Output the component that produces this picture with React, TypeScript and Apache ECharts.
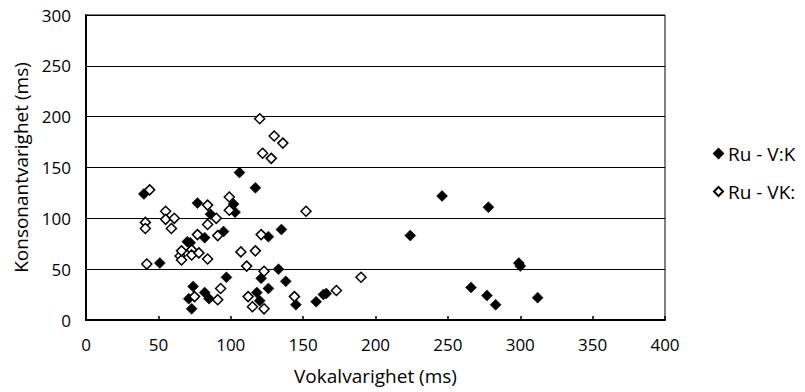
import React, { useEffect, useRef } from "react";
import * as echarts from "echarts";

const seriesNames = ["Ru - V:K", "Ru - VK:"];

// Ru - V:K  [vowel ms, consonant ms]
const filledPoints: [number, number][] = [
  [40, 124], [51, 56], [77, 115], [86, 104], [82, 81], [70, 77], [72, 76],
  [95, 87], [106, 145], [117, 130], [102, 114], [103, 106], [126, 82], [135, 89],
  [97, 42], [74, 33], [71, 21], [73, 11], [82, 27], [85, 21], [121, 41],
  [133, 50], [138, 38], [126, 31], [118, 27], [120, 19], [145, 15], [159, 18],
  [164, 25], [166, 26], [224, 83], [246, 122], [278, 111], [299, 56], [300, 53],
  [266, 32], [277, 24], [283, 15], [312, 22],
];

// Ru - VK:
const openPoints: [number, number][] = [
  [41, 96], [41, 90], [42, 55], [44, 128], [55, 107], [55, 99], [61, 100], [59, 90],
  [84, 113], [90, 100], [84, 94], [91, 83], [77, 84], [65, 63], [66, 59], [66, 68],
  [73, 69], [73, 64], [78, 66], [84, 60], [99, 121], [99, 108], [120, 198], [130, 181],
  [136, 174], [122, 164], [128, 159], [152, 107], [107, 67], [117, 68], [121, 84],
  [111, 53], [123, 48], [112, 23], [115, 13], [123, 11], [144, 23], [173, 29],
  [190, 42], [75, 23], [91, 20], [93, 31],
];

const xTitle = "Vokalvarighet (ms)";
const yTitle = "Konsonantvarighet (ms)";

const FONT = "Open Sans";

export default function App() {
  const ref = useRef<HTMLDivElement>(null);
  useEffect(() => {
    if (!ref.current) return;
    const chart = echarts.init(ref.current, null, { renderer: "svg" });
    chart.setOption({
      animation: false,
      backgroundColor: "#ffffff",
      textStyle: { fontFamily: FONT },
      grid: {
        left: 86,
        top: 15,
        right: 140,
        bottom: 72,
        show: true,
        borderColor: "#000",
        borderWidth: 1,
      },
      legend: {
        orient: "vertical",
        left: 708,
        top: 139,
        itemGap: 19,
        itemWidth: 9,
        itemHeight: 9,
        icon: "diamond",
        textStyle: { fontFamily: FONT, fontSize: 19, color: "#000" },
        data: seriesNames,
      },
      xAxis: {
        type: "value",
        min: 0,
        max: 400,
        interval: 50,
        name: xTitle,
        nameLocation: "middle",
        nameGap: 46,
        nameTextStyle: { fontFamily: FONT, fontSize: 19, color: "#000" },
        axisLine: { show: true, lineStyle: { color: "#000", width: 2 } },
        axisTick: { show: true, inside: true, length: 4, lineStyle: { color: "#000", width: 1.5 } },
        axisLabel: { fontFamily: FONT, fontSize: 17, color: "#000", margin: 16 },
        splitLine: { show: false },
      },
      yAxis: {
        type: "value",
        min: 0,
        max: 300,
        interval: 50,
        name: yTitle,
        nameLocation: "middle",
        nameGap: 54,
        nameTextStyle: { fontFamily: FONT, fontSize: 19, color: "#000" },
        axisLine: { show: true, lineStyle: { color: "#000", width: 2 } },
        axisTick: { show: false },
        axisLabel: { fontFamily: FONT, fontSize: 17, color: "#000", margin: 15 },
        splitLine: { show: true, lineStyle: { color: "#000", width: 1.2 } },
      },
      series: [
        {
          name: seriesNames[0],
          type: "scatter",
          symbol: "diamond",
          symbolSize: 11,
          data: filledPoints,
          itemStyle: { color: "#000", borderColor: "#000", borderWidth: 0.5, opacity: 1 },
        },
        {
          name: seriesNames[1],
          type: "scatter",
          symbol: "diamond",
          symbolSize: 10,
          data: openPoints,
          itemStyle: { color: "#fff", borderColor: "#000", borderWidth: 1.5, opacity: 1 },
        },
      ],
    });
    return () => chart.dispose();
  }, []);
  return <div ref={ref} style={{ width: 805, height: 392, position: "absolute", left: 0, top: 0 }} />;
}
